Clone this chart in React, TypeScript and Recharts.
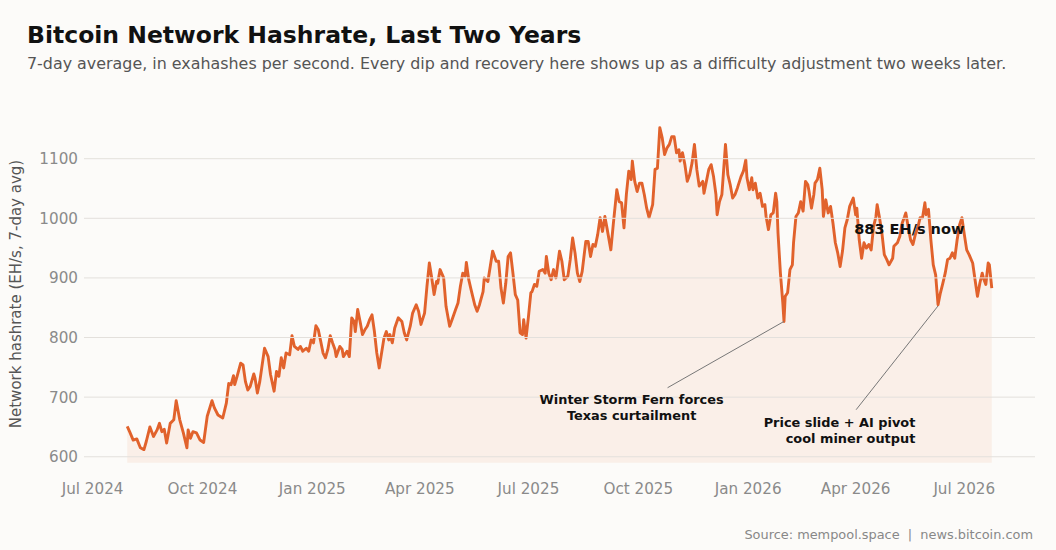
import React from "react";
import {
  ComposedChart,
  Area,
  XAxis,
  YAxis,
  ReferenceLine,
  ReferenceDot,
} from "recharts";

// Days since 1 Jul 2024
const days = [
  29, 31, 34, 37, 40, 43, 45, 48, 51, 54, 56, 58, 60, 62, 65, 68, 70, 73, 76, 79,
  80, 82, 84, 87, 90, 93, 96, 100, 102, 105, 109, 112, 114, 116, 118, 119, 121, 124, 126, 128,
  130, 132, 135, 136, 138, 140, 144, 147, 149, 152, 154, 156, 158, 160, 162, 165, 167, 169, 172, 174,
  176, 179, 181, 183, 185, 187, 189, 191, 193, 195, 197, 199, 201, 203, 204, 207, 209, 210, 213, 215,
  217, 219, 220, 222, 224, 226, 228, 230, 232, 234, 236, 238, 240, 242, 244, 246, 248, 249, 251, 253,
  256, 259, 261, 263, 266, 268, 271, 273, 275, 278, 280, 282, 284, 286, 288, 289, 291, 294, 296, 299,
  301, 304, 306, 308, 310, 312, 313, 315, 317, 320, 322, 324, 327, 328, 331, 333, 335, 338, 340, 342,
  344, 346, 348, 350, 352, 354, 356, 358, 360, 361, 363, 365, 367, 368, 370, 372, 374, 377, 379, 380,
  382, 384, 386, 388, 391, 393, 395, 398, 400, 402, 404, 406, 408, 410, 413, 415, 417, 419, 421, 423,
  425, 427, 429, 431, 434, 436, 439, 441, 443, 445, 447, 449, 451, 452, 454, 456, 458, 460, 462, 464,
  466, 469, 471, 473, 475, 477, 479, 481, 483, 485, 487, 489, 491, 492, 494, 496, 498, 500, 502, 504,
  506, 508, 511, 512, 514, 516, 518, 520, 522, 523, 525, 527, 530, 532, 534, 536, 538, 540, 543, 545,
  547, 548, 550, 552, 553, 555, 557, 559, 561, 563, 564, 566, 568, 570, 572, 573, 574, 576, 578, 579,
  580, 582, 584, 586, 587, 589, 591, 593, 595, 597, 599, 600, 602, 604, 605, 607, 609, 611, 612, 614,
  616, 618, 620, 622, 624, 626, 628, 630, 632, 634, 637, 639, 640, 642, 644, 646, 648, 650, 652, 654,
  656, 657, 659, 661, 663, 665, 667, 670, 671, 674, 676, 678, 680, 681, 683, 685, 687, 689, 691, 693,
  695, 697, 698, 700, 702, 704, 706, 707, 708, 710, 712, 714, 716, 718, 720, 722, 724, 726, 728, 730,
  732, 734, 737, 739, 741, 743, 745, 746, 748, 750, 751, 753,
];

// Network hashrate, EH/s (7-day average)
const hashrate = [
  651, 642, 628, 630, 615, 612, 626, 650, 634, 645, 656, 642, 646, 623, 656, 662, 694, 662, 640, 615,
  645, 631, 642, 640, 628, 624, 668, 694, 682, 670, 665, 690, 723, 721, 736, 721, 735, 757, 754, 726,
  712, 718, 739, 732, 707, 726, 782, 768, 738, 710, 743, 735, 766, 749, 774, 771, 803, 785, 780, 785,
  777, 782, 777, 796, 791, 820, 813, 794, 774, 766, 780, 803, 791, 780, 768, 785, 780, 768, 777, 768,
  833, 827, 810, 847, 827, 805, 813, 819, 830, 838, 810, 774, 749, 774, 799, 810, 796, 805, 791, 816,
  833, 827, 808, 796, 819, 841, 855, 844, 822, 841, 886, 925, 900, 872, 894, 891, 914, 900, 852, 819,
  830, 847, 858, 886, 908, 903, 926, 897, 880, 855, 844, 855, 877, 900, 894, 919, 945, 928, 928, 883,
  858, 891, 936, 942, 908, 872, 863, 808, 805, 830, 799, 835, 875, 877, 889, 886, 911, 914, 908, 936,
  908, 897, 914, 900, 945, 928, 897, 903, 931, 967, 942, 908, 894, 911, 961, 961, 936, 956, 953, 973,
  1001, 978, 1003, 981, 947, 989, 1048, 1028, 1026, 984, 1040, 1079, 1065, 1096, 1062, 1045, 1059, 1059, 1040, 1017,
  1001, 1023, 1082, 1084, 1152, 1135, 1107, 1118, 1124, 1137, 1137, 1110, 1115, 1096, 1110, 1090, 1062, 1073, 1093, 1124,
  1082, 1054, 1062, 1042, 1062, 1082, 1090, 1070, 1040, 1006, 1028, 1040, 1124, 1073, 1056, 1034, 1040, 1051, 1070, 1079,
  1098, 1068, 1048, 1068, 1048, 1059, 1034, 1042, 1020, 1023, 1003, 981, 1006, 1009, 1042, 1028, 975, 908, 858, 827,
  869, 875, 914, 922, 959, 1003, 1009, 1028, 1012, 1062, 1056, 1045, 1017, 1040, 1059, 1065, 1084, 1048, 1003, 1031,
  1009, 1020, 992, 959, 942, 919, 945, 984, 998, 1020, 1034, 1006, 1017, 964, 933, 959, 950, 956, 947, 986,
  1003, 1023, 1001, 975, 939, 931, 922, 933, 953, 959, 970, 992, 1003, 1009, 986, 964, 956, 973, 984, 1001,
  1001, 1026, 1006, 1015, 964, 922, 905, 880, 855, 875, 891, 908, 931, 933, 942, 933, 964, 989, 1001, 973,
  947, 939, 925, 897, 869, 891, 908, 900, 889, 925, 922, 883,
];

const tickDays = [0, 92, 184, 274, 365, 457, 549, 639, 730];
const tickLabels = [
  "Jul 2024", "Oct 2024", "Jan 2025", "Apr 2025", "Jul 2025",
  "Oct 2025", "Jan 2026", "Apr 2026", "Jul 2026",
];
const yTicks = [600, 700, 800, 900, 1000, 1100];

const data = days.map((d, i) => ({ day: d, value: hashrate[i] }));

const LINE = "#E1622C";
const FONT = "'DejaVu Sans', Verdana, sans-serif";

function makeLabel(lines: string[], anchor: "start" | "middle" | "end", size: number) {
  return (props: any) => {
    const vb = props.viewBox || {};
    const x = (vb.x || 0) + (vb.width || 0) / 2;
    const y = (vb.y || 0) + (vb.height || 0) / 2;
    return (
      <text
        x={x}
        y={y}
        textAnchor={anchor}
        fontSize={size}
        fontWeight="bold"
        fill="#111"
        fontFamily={FONT}
      >
        {lines.map((l, i) => (
          <tspan key={i} x={x} dy={i === 0 ? 0 : size * 1.24}>
            {l}
          </tspan>
        ))}
      </text>
    );
  };
}

export default function App() {
  return (
    <div
      style={{
        position: "absolute",
        left: 0,
        top: 0,
        width: 1056,
        height: 550,
        background: "#fcfbf9",
        fontFamily: FONT,
        overflow: "hidden",
      }}
    >
      <ComposedChart
        width={1056}
        height={550}
        data={data}
        margin={{ top: 111, right: 21, bottom: 40, left: 0 }}
      >
        <XAxis
          dataKey="day"
          type="number"
          domain={[-7.2, 789.2]}
          allowDataOverflow
          ticks={tickDays}
          interval={0}
          tickFormatter={(v: number) => tickLabels[tickDays.indexOf(v)] ?? ""}
          tickLine={false}
          axisLine={false}
          tickSize={0}
          tickMargin={3}
          height={30}
          tick={{ fill: "#8a8a8a", fontSize: 15.2, fontFamily: FONT }}
        />
        <YAxis
          type="number"
          domain={[561, 1180]}
          allowDataOverflow
          ticks={yTicks}
          interval={0}
          tickLine={false}
          axisLine={false}
          tickSize={0}
          tickMargin={6}
          width={84}
          tick={{ fill: "#8a8a8a", fontSize: 15.2, fontFamily: FONT }}
        />
        {yTicks.map((t) => (
          <ReferenceLine key={t} y={t} stroke="#e3e0dc" strokeWidth={1} />
        ))}
        <Area
          type="linear"
          dataKey="value"
          stroke={LINE}
          strokeWidth={2.9}
          strokeLinejoin="round"
          fill={LINE}
          fillOpacity={0.08}
          baseValue={590}
          dot={false}
          activeDot={false}
          isAnimationActive={false}
        />
        <ReferenceLine
          segment={[{ x: 481.5, y: 715.8 }, { x: 579, y: 827 }]}
          stroke="#777"
          strokeWidth={1}
        />
        <ReferenceLine
          segment={[{ x: 639.4, y: 678.9 }, { x: 708, y: 853 }]}
          stroke="#777"
          strokeWidth={1}
        />
        <ReferenceDot
          x={451.4}
          y={688.9}
          r={1}
          fill="none"
          stroke="none"
          label={makeLabel(["Winter Storm Fern forces", "Texas curtailment"], "middle", 12.9)}
        />
        <ReferenceDot
          x={689}
          y={650.3}
          r={1}
          fill="none"
          stroke="none"
          label={makeLabel(["Price slide + AI pivot", "cool miner output"], "end", 12.9)}
        />
        <ReferenceDot
          x={730}
          y={974}
          r={1}
          fill="none"
          stroke="none"
          label={makeLabel(["883 EH/s now"], "end", 14.5)}
        />
      </ComposedChart>
      <svg
        width={1056}
        height={550}
        style={{ position: "absolute", left: 0, top: 0, pointerEvents: "none" }}
      >
        <text x={27} y={43} fontSize={23.5} fontWeight="bold" fill="#111" fontFamily={FONT}>
          Bitcoin Network Hashrate, Last Two Years
        </text>
        <text x={27} y={69} fontSize={15.9} fill="#555" fontFamily={FONT}>
          7-day average, in exahashes per second. Every dip and recovery here shows up as a difficulty adjustment two weeks later.
        </text>
        <text
          x={0}
          y={0}
          transform="translate(16,294) rotate(-90)"
          textAnchor="middle"
          dominantBaseline="central"
          fontSize={15}
          fill="#555"
          fontFamily={FONT}
        >
          Network hashrate (EH/s, 7-day avg)
        </text>
        <text
          x={1033}
          y={539}
          textAnchor="end"
          fontSize={12.9}
          fill="#888"
          fontFamily={FONT}
          style={{ whiteSpace: "pre" }}
          xmlSpace="preserve"
        >
          {"Source: mempool.space  |  news.bitcoin.com"}
        </text>
      </svg>
    </div>
  );
}
